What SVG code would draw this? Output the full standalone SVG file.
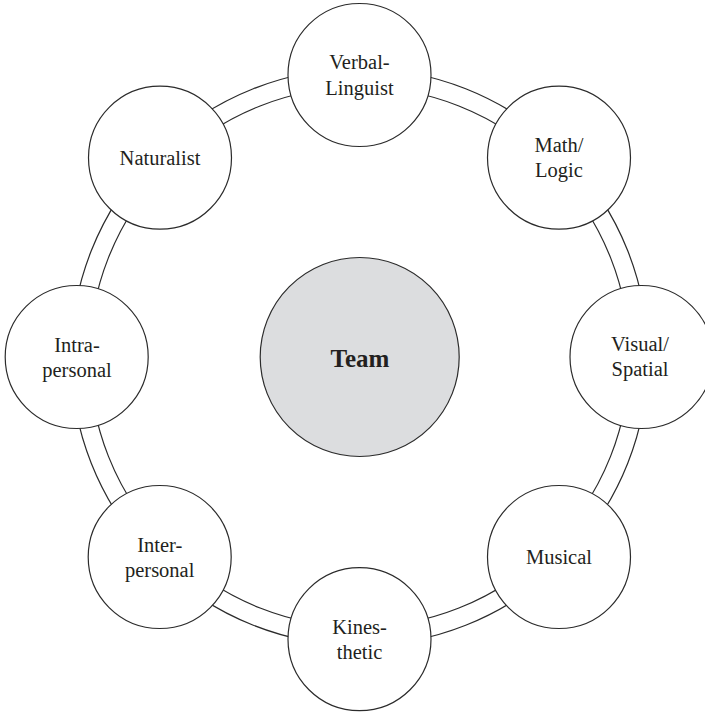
<svg xmlns="http://www.w3.org/2000/svg" width="705" height="712" viewBox="0 0 705 712">
  <style>
    .ring { fill: none; stroke: #2b2b2b; stroke-width: 1.2; }
    .node { fill: #ffffff; stroke: #2b2b2b; stroke-width: 1.2; }
    .hub { fill: #dcdddf; stroke: #2b2b2b; stroke-width: 1.2; }
    .lbl { font-family: "Liberation Serif", "DejaVu Serif", serif; font-size: 20.5px; fill: #231f20; text-anchor: middle; }
    .hubl { font-family: "Liberation Serif", "DejaVu Serif", serif; font-size: 25px; font-weight: bold; fill: #231f20; text-anchor: middle; }
  </style>

  <!-- double-line ring linking the outer nodes -->
  <g id="connectors">
    <circle class="ring" cx="359.5" cy="357" r="288.5"/>
    <circle class="ring" cx="359.5" cy="357" r="270"/>
  </g>

  <g id="team">
    <circle class="hub" cx="359.7" cy="357" r="99.5"/>
    <text class="hubl" x="360" y="367">Team</text>
  </g>

  <g id="verbal-linguist">
    <circle class="node" cx="359.5" cy="75" r="71.5"/>
    <text class="lbl" x="359.5" y="69">Verbal-</text>
    <text class="lbl" x="359.5" y="94.5">Linguist</text>
  </g>

  <g id="math-logic">
    <circle class="node" cx="559" cy="157.7" r="71.5"/>
    <text class="lbl" x="559" y="152">Math/</text>
    <text class="lbl" x="559" y="177">Logic</text>
  </g>

  <g id="visual-spatial">
    <circle class="node" cx="641.5" cy="357" r="71.5"/>
    <text class="lbl" x="640" y="351">Visual/</text>
    <text class="lbl" x="640" y="376">Spatial</text>
  </g>

  <g id="musical">
    <circle class="node" cx="559" cy="557" r="71.5"/>
    <text class="lbl" x="559" y="564">Musical</text>
  </g>

  <g id="kinesthetic">
    <circle class="node" cx="359.5" cy="639.2" r="71.5"/>
    <text class="lbl" x="359.5" y="633.5">Kines-</text>
    <text class="lbl" x="359.5" y="658.5">thetic</text>
  </g>

  <g id="inter-personal">
    <circle class="node" cx="159.7" cy="557" r="71.5"/>
    <text class="lbl" x="159.7" y="551.5">Inter-</text>
    <text class="lbl" x="159.7" y="576.5">personal</text>
  </g>

  <g id="intra-personal">
    <circle class="node" cx="76.7" cy="357" r="71.5"/>
    <text class="lbl" x="77" y="351.5">Intra-</text>
    <text class="lbl" x="77" y="376.5">personal</text>
  </g>

  <g id="naturalist">
    <circle class="node" cx="160" cy="157.7" r="71.5"/>
    <text class="lbl" x="160" y="164.5">Naturalist</text>
  </g>
</svg>
